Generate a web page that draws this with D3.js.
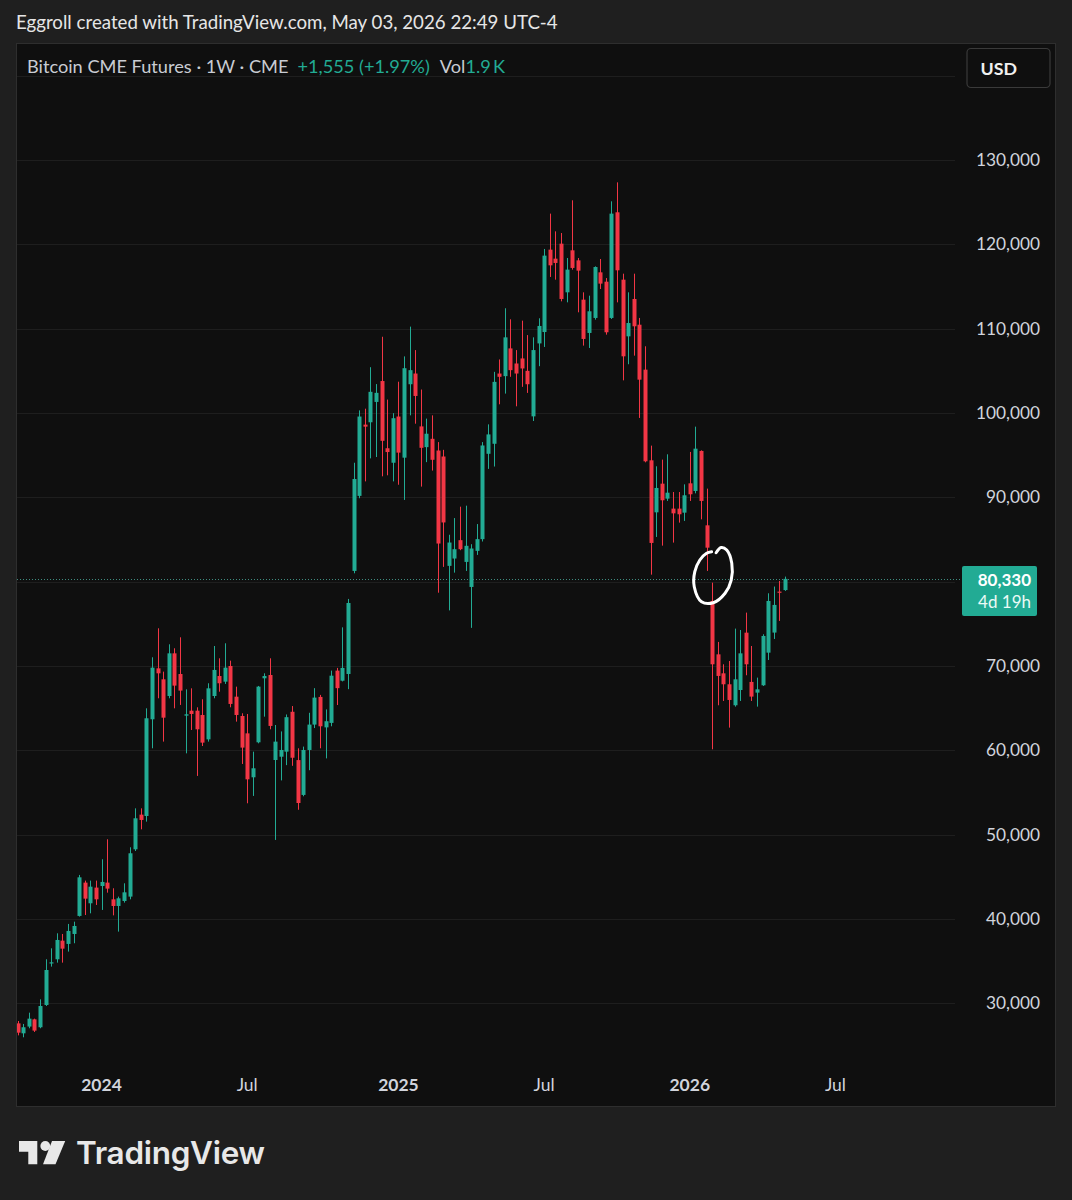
<!DOCTYPE html>
<html><head><meta charset="utf-8">
<script src="https://cdn.jsdelivr.net/npm/d3@7"></script>
<style>
html,body{margin:0;padding:0;background:#1f1f1f;}
svg{display:block;}
</style></head><body>
<svg id="chart" width="1072" height="1200"></svg>
<script>
// Weekly candles (values in thousands of USD), first week starting Monday:
const startWeek = "2023-09-18";
const opens = [27.62,26.44,27.24,28.10,27.16,29.80,34.75,35.22,37.43,37.04,
38.22,40.36,44.31,41.86,43.72,43.91,44.31,42.33,41.54,42.13,
42.65,48.26,52.37,52.21,63.68,69.72,68.42,66.44,71.50,69.05,
64.11,64.70,64.70,64.19,61.30,66.44,68.81,68.14,70.00,66.36,
64.07,62.01,56.80,60.95,68.54,68.93,58.85,59.24,59.84,64.57,
58.84,54.71,60.04,63.05,66.33,62.72,63.25,69.45,68.25,69.05,
81.27,90.17,98.62,98.90,101.31,103.79,95.82,94.10,99.58,94.70,
103.41,104.68,98.41,95.95,96.94,95.55,94.84,81.87,82.74,84.92,
82.34,79.37,83.65,85.04,95.16,96.35,104.68,104.37,107.66,105.87,
106.47,105.00,99.60,108.25,109.60,119.37,118.30,120.08,114.31,119.29,
118.10,113.44,109.49,111.27,116.68,115.57,111.27,123.80,115.81,109.09,
113.52,110.47,105.14,94.39,88.22,91.62,89.84,88.66,88.66,88.18,
91.66,90.75,95.50,86.68,77.71,71.38,69.13,67.83,65.34,67.15,
73.95,68.11,66.84,67.71,71.58,73.96,78.82,79.00];
const highs = [27.90,27.55,28.89,28.18,30.47,35.22,36.52,38.30,38.22,39.41,
39.68,45.22,44.55,44.55,44.55,47.08,49.45,43.64,42.65,44.23,
48.50,53.12,53.12,64.98,71.03,74.47,69.33,72.57,72.10,73.40,
67.23,67.35,65.10,66.05,67.95,72.37,70.91,72.69,70.63,67.55,
64.39,64.31,59.84,67.63,69.13,70.91,63.00,62.24,64.25,65.25,
60.24,60.44,64.45,67.37,66.57,64.85,69.45,69.77,74.58,77.95,
94.10,100.31,100.51,105.43,103.43,109.04,101.59,99.98,103.71,106.71,
110.24,107.46,102.78,99.33,99.72,96.55,95.63,85.56,87.54,88.89,
89.01,84.44,86.83,96.55,98.65,104.88,106.35,112.42,111.11,107.46,
110.95,109.24,108.97,111.23,119.45,123.64,121.54,121.34,118.38,125.22,
118.38,114.31,113.91,117.39,118.26,116.00,125.10,127.35,116.52,114.31,
116.52,111.27,107.91,96.13,93.68,94.47,95.10,90.63,90.63,91.54,
95.38,98.38,95.57,91.03,79.88,72.85,70.20,70.59,74.43,74.27,
76.33,72.37,68.62,73.76,78.62,79.42,80.08,80.60];
const lows = [26.20,25.97,27.04,26.60,27.04,29.68,34.35,34.82,34.82,36.13,
37.12,40.28,40.47,40.67,41.66,41.07,43.12,40.43,38.50,41.94,
42.33,48.06,50.63,51.54,60.24,66.17,61.03,66.17,64.98,65.38,
59.64,62.41,56.96,60.51,61.03,66.17,66.95,67.87,65.10,63.40,
58.38,53.72,54.59,60.83,63.99,62.49,49.37,56.43,58.24,58.16,
52.95,54.55,57.64,62.64,60.24,59.04,62.85,65.37,68.17,67.25,
80.99,89.89,91.89,94.62,94.78,92.49,92.61,91.89,91.49,89.69,
99.72,98.73,91.27,94.17,93.17,78.69,81.75,76.59,81.07,83.73,
81.27,74.52,83.17,84.76,93.37,93.65,101.03,102.30,104.29,100.79,
103.10,102.38,99.05,105.55,107.83,116.13,115.81,113.24,113.12,117.00,
111.94,107.99,107.71,111.07,114.70,109.29,111.15,113.12,103.87,105.78,
106.80,99.41,94.15,80.83,85.30,84.27,89.57,84.63,87.00,87.20,
89.57,90.47,87.39,81.27,60.12,65.34,65.85,62.69,65.18,65.85,
68.90,65.85,65.18,67.63,70.71,73.20,75.34,78.90];
const closes = [26.52,27.16,28.18,26.76,29.68,33.95,34.86,37.51,36.48,38.58,
39.17,44.94,42.41,43.83,42.33,44.39,43.60,41.54,42.45,43.16,
47.79,51.94,51.74,63.80,69.80,69.13,63.87,71.50,67.67,67.08,
64.27,64.31,62.49,60.91,67.35,69.53,67.95,69.80,65.50,64.19,
60.32,56.56,57.87,67.55,68.81,62.89,61.03,60.04,63.93,59.12,
53.75,60.04,63.05,66.25,62.85,63.45,68.85,67.37,69.77,77.47,
92.17,99.58,98.38,102.51,102.39,96.70,95.37,99.38,95.30,105.31,
105.08,102.02,95.87,97.54,94.45,84.52,87.02,84.64,83.85,83.85,
84.25,83.93,85.04,96.15,97.46,103.69,104.29,108.97,105.08,104.68,
105.28,103.41,107.46,110.32,118.66,117.51,117.79,113.52,117.00,117.20,
116.88,108.78,112.06,117.31,115.34,109.57,123.64,116.92,106.72,110.67,
110.28,103.95,94.27,84.59,91.11,89.65,90.55,88.10,87.99,90.24,
90.36,95.77,89.57,84.03,70.20,68.82,67.83,65.97,68.42,71.50,
70.20,66.37,67.23,73.56,77.71,77.24,78.775,80.33];

const yTicks = [30,40,50,60,70,80,90,100,110,120,130];
const yGridExtra = [140];
const xTickDates = ["2024-01-01","2024-07-01","2025-01-06","2025-07-07","2026-01-05","2026-07-06"];
const xTickLabels = ["2024","Jul","2025","Jul","2026","Jul"];
const xTickBold = [true,false,true,false,true,false];
const lastPriceLabel = "80,330";
const countdownLabel = "4d 19h";
// hand-drawn annotation ring: [weeks from first candle, price (k)]
const ringPts = [[124.7,83.43],[125.6,84.05],[126.6,83.75],[127.5,82.17],[127.4,80.19],[126.3,78.62],
 [124.2,77.5],[122.1,77.62],[120.8,79.4],[120.9,81.18],[121.8,82.57],[123.0,83.37],[123.9,83.55]];

const UP="#22ab94", DOWN="#f23645";
const FONT="Lato, 'Open Sans', sans-serif";
const svg=d3.select("#chart");
const parse=d3.utcParse("%Y-%m-%d");
const t0=parse(startWeek);
const n=opens.length;
const dates=d3.range(n).map(i=>d3.utcDay.offset(t0,7*i));
const data=dates.map((d,i)=>({d,o:opens[i],h:highs[i],l:lows[i],c:closes[i]}));

const plot={left:16,right:955,top:44,bottom:1070};
const x=d3.scaleUtc().domain([t0,dates[n-1]]).range([17.5,785]);
const y=d3.scaleLinear().domain([30,130]).range([1003.3,160]);
const weekMs=7*864e5;
const xw=w=>x(new Date(t0.getTime()+w*weekMs));

// background & panel
svg.append("rect").attr("width",1072).attr("height",1200).attr("fill","#1f1f1f");
svg.append("rect").attr("x",16.5).attr("y",43.5).attr("width",1039).attr("height",1063)
  .attr("fill","#0f0f0f").attr("stroke","#2e2e2e");

svg.append("defs").append("clipPath").attr("id","pc").append("rect")
  .attr("x",plot.left+1).attr("y",plot.top).attr("width",plot.right-plot.left-1).attr("height",plot.bottom-plot.top);

// grid
const g=svg.append("g");
g.selectAll("line.grid").data(yTicks.concat(yGridExtra)).join("line")
  .attr("x1",plot.left+1).attr("x2",plot.right)
  .attr("y1",d=>Math.round(y(d))+0.5).attr("y2",d=>Math.round(y(d))+0.5)
  .attr("stroke","#1e1e1e").attr("stroke-width",1);

// last price dotted line
const lastY=Math.round(y(closes[n-1]))+0.5;
svg.append("line").attr("x1",plot.left+1).attr("x2",962).attr("y1",lastY).attr("y2",lastY)
  .attr("stroke","#3f8c80").attr("stroke-width",1).attr("stroke-dasharray","1 2");

// candles
const cg=svg.append("g").attr("clip-path","url(#pc)");
cg.selectAll("line.wick").data(data).join("line")
  .attr("x1",d=>Math.round(x(d.d))+0.5).attr("x2",d=>Math.round(x(d.d))+0.5)
  .attr("y1",d=>y(d.h)).attr("y2",d=>y(d.l))
  .attr("stroke",d=>d.c>=d.o?UP:DOWN).attr("stroke-width",1);
cg.selectAll("rect.body").data(data).join("rect")
  .attr("x",d=>Math.round(x(d.d))-1.5).attr("width",4)
  .attr("y",d=>y(Math.max(d.o,d.c)))
  .attr("height",d=>Math.max(1.2,Math.abs(y(d.o)-y(d.c))))
  .attr("fill",d=>d.c>=d.o?UP:DOWN);

// annotation ring
svg.append("path")
  .attr("d",d3.line().x(p=>xw(p[0])).y(p=>y(p[1])).curve(d3.curveCatmullRom.alpha(0.5))(ringPts))
  .attr("fill","none").attr("stroke","#ffffff").attr("stroke-width",3).attr("stroke-linecap","round");

// y labels (the one hidden behind the last-price label is skipped)
const fmt=v=>d3.format(",")(v*1000);
svg.selectAll("text.yl").data(yTicks.filter(t=>Math.abs(y(t)-(lastY+11))>32)).join("text")
  .attr("x",1040).attr("y",d=>y(d)).attr("dy","0.35em").attr("text-anchor","end")
  .attr("font-family",FONT).attr("font-size",17.3).attr("fill","#d1d4dc").text(fmt);

// x labels
svg.selectAll("text.xl").data(xTickDates).join("text")
  .attr("x",d=>x(parse(d))).attr("y",1091).attr("text-anchor","middle")
  .attr("font-family",FONT).attr("font-size",17.5)
  .attr("font-weight",(d,i)=>xTickBold[i]?"bold":"normal")
  .attr("fill","#d1d4dc").text((d,i)=>xTickLabels[i]);

// last price label
const lbl=svg.append("g");
lbl.append("rect").attr("x",962).attr("y",lastY-13.5).attr("width",75).attr("height",50).attr("rx",2).attr("fill",UP);
lbl.append("text").attr("x",1031).attr("y",lastY).attr("dy","0.36em").attr("text-anchor","end")
  .attr("font-family",FONT).attr("font-size",17).attr("font-weight","bold").attr("fill","#ffffff").text(lastPriceLabel);
lbl.append("text").attr("x",1031).attr("y",lastY+22).attr("dy","0.36em").attr("text-anchor","end")
  .attr("font-family",FONT).attr("font-size",17).attr("fill","#eafaf6").text(countdownLabel);

// title
svg.append("text").attr("x",16).attr("y",22).attr("dy","0.36em")
  .attr("font-family",FONT).attr("font-size",18.7).attr("fill","#e6e6e6")
  .text("Eggroll created with TradingView.com, May 03, 2026 22:49 UTC-4");

// legend
const lg=svg.append("text").attr("x",27).attr("y",66).attr("dy","0.36em")
  .attr("font-family",FONT).attr("font-size",18.2).attr("fill","#c9ccd3");
lg.append("tspan").text("Bitcoin CME Futures · 1W · CME");
lg.append("tspan").attr("dx",9).attr("fill",UP).text("+1,555 (+1.97%)");
lg.append("tspan").attr("dx",10).text("Vol");
lg.append("tspan").attr("fill",UP).text("1.9\u2009K");

// USD button
svg.append("rect").attr("x",967).attr("y",48.5).attr("width",83).attr("height",39).attr("rx",4)
  .attr("fill","#0f0f0f").attr("stroke","#3a3a3a").attr("stroke-width",1.2);
svg.append("text").attr("x",980.5).attr("y",68.5).attr("dy","0.36em")
  .attr("font-family",FONT).attr("font-size",17.8).attr("font-weight","bold").attr("fill","#f0f0f0").text("USD");

// TradingView logo
const logo=svg.append("g").attr("fill","#e8e8e8");
logo.append("path").attr("d","M19,1141 H37.3 V1164.3 H28.3 V1151.7 H19 Z");
logo.append("circle").attr("cx",45.3).attr("cy",1146).attr("r",4.9);
logo.append("path").attr("d","M52,1141 H65.2 L55.5,1164.3 H43 Z");
logo.append("text").attr("x",76).attr("y",1164.3)
  .attr("font-family","Inter, sans-serif").attr("font-size",31.5).attr("font-weight",600)
  .attr("letter-spacing","-0.3").text("TradingView");
</script>
</body></html>
